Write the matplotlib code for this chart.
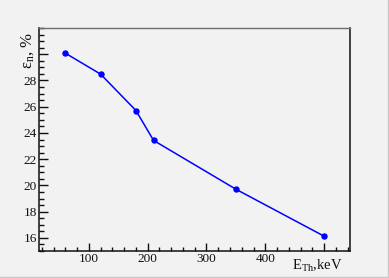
import matplotlib
matplotlib.use("Agg")
import matplotlib.pyplot as plt
from matplotlib.ticker import MultipleLocator
from matplotlib.lines import Line2D

# --- Data ---
e_th = [60, 120, 180, 210, 350, 500]
eff = [30.08, 28.48, 25.71, 23.43, 19.71, 16.13]

x_ticks = [100, 200, 300, 400, 500]
x_tick_labels = ["100", "200", "300", "400", ""]
y_ticks = [16, 18, 20, 22, 24, 26, 28, 30]
y_tick_labels = ["16", "18", "20", "22", "24", "26", "28", ""]

# --- Style ---
plt.rcParams["font.family"] = ["Liberation Serif", "DejaVu Serif"]
plt.rcParams["mathtext.fontset"] = "custom"
plt.rcParams["mathtext.rm"] = "Liberation Serif"
plt.rcParams["mathtext.it"] = "Liberation Serif"
plt.rcParams["mathtext.default"] = "rm"

BG = "#f2f2f2"

fig = plt.figure(figsize=(3.89, 2.78), dpi=100, facecolor=BG)
ax = fig.add_axes([0.1015, 0.0971, 0.7982, 0.8022], facecolor=BG)

ax.plot(e_th, eff, color="#0000ff", lw=1.1, marker="o", ms=3.6,
        mec="#0000ff", mfc="#0000ff")

ax.set_xlim(16, 544)
ax.set_ylim(15, 32)

ax.set_xticks(x_ticks)
ax.set_xticklabels(x_tick_labels)
ax.set_yticks(y_ticks)
ax.set_yticklabels(y_tick_labels)
ax.xaxis.set_minor_locator(MultipleLocator(20))
ax.yaxis.set_minor_locator(MultipleLocator(0.5))

ax.tick_params(axis="both", which="both", direction="in", colors="#111111",
               labelsize=9.5, width=1.0)
ax.tick_params(axis="x", which="major", length=5.5, pad=1.5)
ax.tick_params(axis="x", which="minor", length=3)
ax.tick_params(axis="y", which="major", length=6.5, pad=2)
ax.tick_params(axis="y", which="minor", length=3.5)
ax.tick_params(top=False, right=False, which="both")

for side in ["left", "bottom", "right"]:
    ax.spines[side].set_color("#111111")
    ax.spines[side].set_linewidth(1.1)
ax.spines["top"].set_color("#6e6e6e")
ax.spines["top"].set_linewidth(1.0)

# axis titles placed ROOT-style at the ends of the axes
fig.text(0.071, 0.885, r"$\varepsilon_{n}$, %", rotation=90, ha="center",
         va="top", fontsize=12, color="#111111")
fig.text(0.8817, 0.015, r"E$_{\mathrm{Th}}$,keV", ha="right", va="bottom",
         fontsize=10.5, color="#111111")

# thin window edge like the screenshot
fig.add_artist(Line2D([0.998, 0.998], [0, 1], transform=fig.transFigure,
                      color="#c8c8c8", lw=1))
fig.add_artist(Line2D([0, 1], [0.002, 0.002], transform=fig.transFigure,
                      color="#c8c8c8", lw=1))

fig.savefig("out.png", dpi=100, facecolor=BG)
